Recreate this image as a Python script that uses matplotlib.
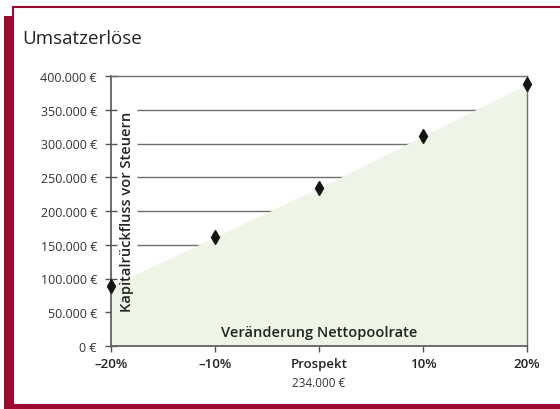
import matplotlib.pyplot as plt
from matplotlib.patches import Rectangle
from matplotlib.lines import Line2D
from matplotlib.ticker import FuncFormatter

plt.rcParams['font.family'] = ['Open Sans', 'DejaVu Sans']

# data
change = [-20, -10, 0, 10, 20]
tick_labels = ['–20%', '–10%', 'Prospekt', '10%', '20%']
cash_back = [89000, 161500, 234000, 311000, 388000]
y_ticks = [0, 50000, 100000, 150000, 200000, 250000, 300000, 350000, 400000]

RED = '#9c0a2f'
GREEN = '#eef4e6'
GRID = '#6e6e6e'

fig = plt.figure(figsize=(5.6, 4.1), dpi=100)
W, H = 560, 410

# frame around the card
fig.patches.append(Rectangle((4 / W, 0), 10 / W, 1 - 17 / H, transform=fig.transFigure,
                             facecolor=RED, edgecolor='none'))
fig.patches.append(Rectangle((4 / W, 0), 1, 5 / H, transform=fig.transFigure,
                             facecolor=RED, edgecolor='none'))
fig.lines.append(Line2D([13 / W, 1], [1 - 8 / H, 1 - 8 / H], transform=fig.transFigure,
                        color=RED, lw=1.5))
fig.lines.append(Line2D([13 / W, 13 / W], [1 - 8 / H, 1 - 17 / H], transform=fig.transFigure,
                        color=RED, lw=1.5))

fig.text(22 / W, 1 - 39 / H, 'Umsatzerlöse', fontsize=13.5, fontweight='medium',
         color='#222222', va='center', ha='left')

ax = fig.add_axes([111 / W, 1 - 347 / H, 416 / W, 270 / H])

ax.hlines(y_ticks[1:-1], -17.5, 20, color=GRID, lw=1, zorder=1)
ax.fill_between(change, cash_back, 0, color=GREEN, lw=0, zorder=2)
ax.plot(change, cash_back, linestyle='none', marker='d', markersize=7,
        color='#151515', zorder=4, clip_on=False)

ax.set_xlim(-20, 20)
ax.set_ylim(0, 400000)
ax.set_xticks(change)
ax.set_xticklabels(tick_labels, fontsize=9.5, fontweight='semibold', color='#222222')
ax.set_yticks(y_ticks)
ax.yaxis.set_major_formatter(FuncFormatter(lambda v, p: f'{int(v):,} €'.replace(',', '.')))
ax.tick_params(axis='y', direction='inout', length=8, width=1, color='#555555',
               labelsize=9, labelcolor='#333333', pad=6)
ax.tick_params(axis='x', direction='out', length=4, width=1, color='#555555', pad=4)

for side in ['left', 'bottom']:
    ax.spines[side].set_color('#555555')
    ax.spines[side].set_linewidth(1.2)
for side in ['top', 'right']:
    ax.spines[side].set_color(GRID)
    ax.spines[side].set_linewidth(1)

ax.text(0.0385, 0.5, 'Kapitalrückfluss vor Steuern', transform=ax.transAxes, rotation=90,
        ha='center', va='center', fontsize=10.5, fontweight='semibold', color='#222222', zorder=5)
ax.text(0.5, 0.052, 'Veränderung Nettopoolrate', transform=ax.transAxes,
        ha='center', va='center', fontsize=10.5, fontweight='semibold', color='#222222', zorder=5)
ax.text(0, -0.135, '234.000 €', transform=ax.get_xaxis_transform(), ha='center', va='center',
        fontsize=8.5, color='#333333')

fig.savefig('out.png', dpi=100)
